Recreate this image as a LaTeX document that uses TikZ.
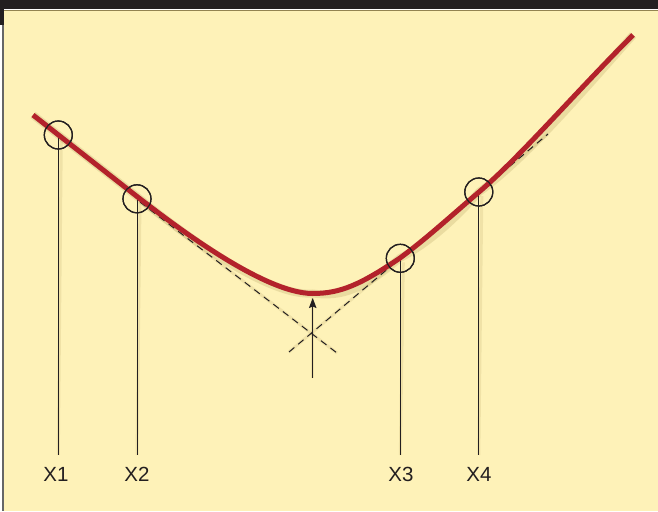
\documentclass[tikz,border=0pt]{standalone}
\usepackage{fontspec}
\setmainfont{Liberation Sans}
\usetikzlibrary{arrows.meta}
\definecolor{panel}{HTML}{FEF2B8}
\definecolor{curvered}{HTML}{B3222B}
\definecolor{ink}{HTML}{231F20}
\definecolor{shade}{HTML}{B8A565}
\begin{document}
\begin{tikzpicture}[x=1pt,y=-1pt,
  curvestyle/.style={draw=curvered, line width=5pt},
  curveshadow/.style={draw=shade, line width=8pt, opacity=0.28},
  thinshadow/.style={draw=shade, line width=3pt, opacity=0.2},
  guide/.style={draw=ink, line width=1pt},
  asym/.style={draw=ink, line width=1pt, dash pattern=on 7pt off 5pt},
  ring/.style={circle, draw=ink, line width=1.2pt, minimum size=28pt, inner sep=0pt},
  lbl/.style={text=ink, font=\fontsize{20.5}{24}\selectfont, inner sep=0pt}]
\useasboundingbox (0,0) rectangle (658,511);
% frame
\fill[white] (0,0) rectangle (658,511);
\fill[panel] (4,10) rectangle (658,511);
\fill[ink] (0,0) rectangle (658,9.5);
\fill[ink] (0,0) rectangle (4,25);
\fill[black!60] (1.5,25) rectangle (4,511);
\draw[shade!80!black, line width=0.6pt] (4,10) -- (658,10);
% key points
\coordinate (s0) at (33,115);
\coordinate (s1) at (137,196.5);
\coordinate (bot) at (312.7,293.5);
\coordinate (p3) at (400,258);
\coordinate (p4) at (479,192);
\coordinate (s9) at (633,35);
\coordinate (b1) at (58.3,455);
\coordinate (b2) at (137,455);
\coordinate (b3) at (400.3,455);
\coordinate (b4) at (478.8,455);
\coordinate (dl1) at (140,202);
\coordinate (dl2) at (337,353);
\coordinate (dr1) at (289,352);
\coordinate (dr2) at (548,134);
\coordinate (a0) at (312.7,378);
\coordinate (a1) at (312.7,298);
\def\curvepath{(s0) -- (s1) .. controls (168,220.3) and (262,293.5) .. (bot)
  .. controls (340,293.5) and (360,285) .. (p3)
  .. controls (426,239) and (452,215) .. (p4)
  .. controls (520,157) and (575,93) .. (s9)}
% shadows
\begin{scope}[shift={(3,4)}]
\draw[curveshadow] \curvepath;
\draw[thinshadow] (b1) -- (58.3,135);
\draw[thinshadow] (b2) -- (137,198.8);
\draw[thinshadow] (b3) -- (400.3,258.3);
\draw[thinshadow] (b4) -- (478.8,192);
\draw[thinshadow] (a0) -- (a1);
\draw[thinshadow] (dl1) -- (dl2);
\draw[thinshadow] (dr1) -- (dr2);
\end{scope}
% asymptotes
\draw[asym] (dl1) -- (dl2);
\draw[asym] (dr1) -- (dr2);
% rings
\node[ring] (k1) at (58.3,135) {};
\node[ring] (k2) at (137,198.8) {};
\node[ring] (k3) at (400.3,258.3) {};
\node[ring] (k4) at (478.8,192) {};
% verticals
\draw[guide] (k1.center) -- (b1);
\draw[guide] (k2.center) -- (b2);
\draw[guide] (k3.center) -- (b3);
\draw[guide] (k4.center) -- (b4);
% arrow
\draw[guide, -{Stealth[length=10pt, width=7.5pt, inset=1.5pt]}] (a0) -- (a1);
% curve
\draw[curvestyle] \curvepath;
% ring outlines on top
\draw[draw=ink, line width=1.2pt] (k1) circle (14pt);
\draw[draw=ink, line width=1.2pt] (k2) circle (14pt);
\draw[draw=ink, line width=1.2pt] (k3) circle (14pt);
\draw[draw=ink, line width=1.2pt] (k4) circle (14pt);
% labels
\node[lbl] (l1) at (56,474) {X1};
\node[lbl] (l2) at (137,474) {X2};
\node[lbl] (l3) at (401,474) {X3};
\node[lbl] (l4) at (479,474) {X4};
\end{tikzpicture}
\end{document}
